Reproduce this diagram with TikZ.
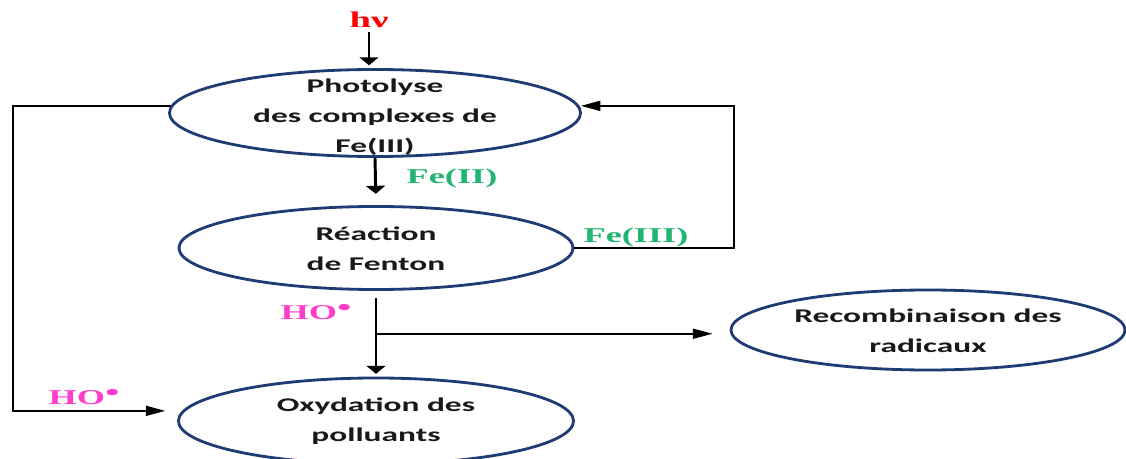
\documentclass[tikz,border=0pt]{standalone}
\usepackage{fontspec}
\usetikzlibrary{shapes.geometric,arrows.meta,calc}
\newfontfamily\stagefont[FakeStretch=1.72]{Carlito}
\newfontfamily\tagfont[FakeStretch=1.72]{Liberation Serif}
\definecolor{ellblue}{HTML}{1F3B73}
\definecolor{fegreen}{HTML}{22B573}
\definecolor{hopink}{HTML}{FF3CCB}
\newcommand{\hodot}{\raisebox{0.45ex}{\fontsize{17}{17}\selectfont\textbullet}}
\tikzstyle{stage} = [draw=ellblue, line width=2pt, ellipse, inner sep=0pt]
\tikzstyle{stagetext} = [align=center, inner sep=0pt, text=black!90,
    font=\stagefont\bfseries\fontsize{13.8}{21.3}\selectfont]
\tikzstyle{tag} = [inner sep=0pt, font=\tagfont\bfseries\fontsize{15}{18}\selectfont]
\tikzstyle{vline} = [line width=2.1pt, -{Triangle[length=5.7pt,width=13.5pt]}]
\tikzstyle{hline} = [line width=1.3pt, -{Triangle[length=14pt,width=7pt]}]
\tikzstyle{loopline} = [line width=1.6pt, -{Triangle[length=14pt,width=7pt]}]

\begin{document}
\begin{tikzpicture}[x=0.025cm,y=-0.025cm]
\useasboundingbox (0,0) rectangle (1126,459);
                \node[stage, minimum width=10.275cm, minimum height=2.175cm] (photo) at (375,113) {};
                \node[stagetext] (photo-t) at (375,117) {Photolyse\\des complexes de\\Fe(III)};
                \node[stage, minimum width=9.85cm, minimum height=2.075cm] (fenton) at (376,248) {};
                \node[stagetext] (fenton-t) at (376,249) {Réaction\\de Fenton};
                \node[stage, minimum width=9.85cm, minimum height=2.0cm] (recomb) at (928,330) {};
                \node[stagetext] (recomb-t) at (928,331) {Recombinaison des\\radicaux};
                \node[stage, minimum width=9.875cm, minimum height=2.15cm] (oxy) at (376,421) {};
                \node[stagetext] (oxy-t) at (376,421) {Oxydation des\\polluants};

                \node[tag, text=red, font=\tagfont\bfseries\fontsize{16}{18}\selectfont] (hv) at (369,20) {hν};
                \node[tag, text=fegreen] (fe2) at (452,178) {Fe(II)};
                \node[tag, text=fegreen] (fe3) at (636,237) {Fe(III)};
                \node[tag, text=hopink] (ho1) at (316,312) {HO\hodot};
                \node[tag, text=hopink] (ho2) at (84,397) {HO\hodot};

                \coordinate (rturn) at (734,180);
                \coordinate (lturn) at (13,260);
                \coordinate (split) at ($(fenton.south)!0.5!(oxy.north)$);

                \draw[vline, shorten <=3pt, shorten >=2pt] (hv.south) -- (hv |- photo.north);
                \draw[vline, shorten >=8pt] (photo.south) -- (fenton.north);
                \draw[loopline, shorten >=1pt] (fenton.east) -| (rturn) |- (photo.2);
                \draw[loopline, shorten >=12pt] (photo.178) -| (lturn) |- (oxy.177);
                \draw[vline, shorten <=5pt, shorten >=2pt] (fenton.south) -- (oxy.north);
                \draw[hline, shorten >=12pt] (split) -- (split -| recomb.west);
            \end{tikzpicture}
\end{document}
